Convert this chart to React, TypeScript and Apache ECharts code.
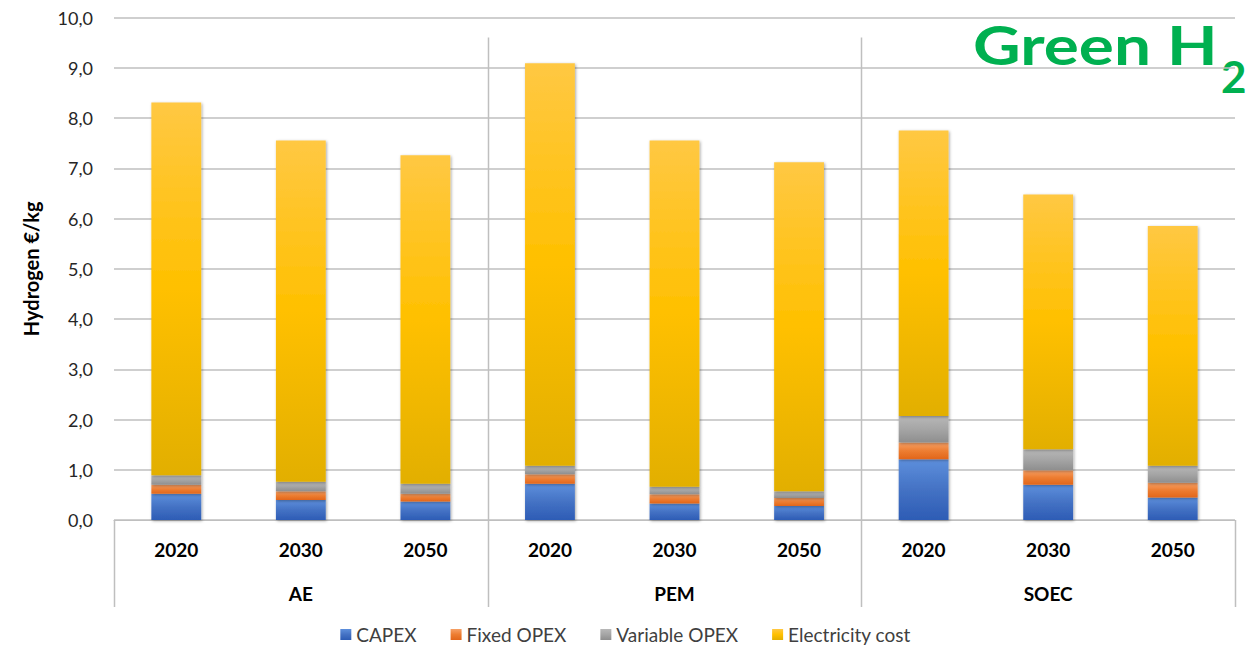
import React, { useEffect, useRef } from "react";
import * as echarts from "echarts";

// Cost build-up of green hydrogen per electrolyser technology and year (€/kg)
const years = ["2020", "2030", "2050", "2020", "2030", "2050", "2020", "2030", "2050"];
const technologies = ["AE", "PEM", "SOEC"];
const capex = [0.52, 0.4, 0.37, 0.72, 0.33, 0.28, 1.21, 0.7, 0.45];
const fixedOpex = [0.18, 0.17, 0.15, 0.19, 0.18, 0.16, 0.33, 0.29, 0.29];
const variableOpex = [0.19, 0.19, 0.2, 0.17, 0.15, 0.13, 0.53, 0.42, 0.34];
const electricityCost = [7.42, 6.79, 6.54, 8.01, 6.89, 6.55, 5.68, 5.07, 4.77];
const yTicks = { min: 0, max: 10, interval: 1 };

// Group separators: [category index, top value, side of the band]
const separators = [
  [0, 0, -1],
  [2, 9.6, 1],
  [5, 9.6, 1],
  [8, 0, 1],
];

const FONT = "Lato, 'Noto Sans', sans-serif";
const GRID = "#BFBFBF";
const GREEN = "#00B050";

const grad = (top: string, mid: string, bottom: string) =>
  new echarts.graphic.LinearGradient(0, 0, 0, 1, [
    { offset: 0, color: top },
    { offset: 0.5, color: mid },
    { offset: 1, color: bottom },
  ]);

const barStyle = (color: any) => ({
  color,
  shadowColor: "rgba(0,0,0,0.35)",
  shadowBlur: 3,
  shadowOffsetX: 1,
  shadowOffsetY: 1,
});

export default function App() {
  const ref = useRef<HTMLDivElement>(null);

  useEffect(() => {
    document.body.style.margin = "0";
    const chart = echarts.init(ref.current!, undefined, { renderer: "svg" });

    const stackSeries = (name: string, data: number[], color: any) => ({
      name,
      type: "bar",
      stack: "cost",
      barWidth: "40%",
      data,
      itemStyle: barStyle(color),
      emphasis: { disabled: true },
    });

    chart.setOption({
      animation: false,
      textStyle: { fontFamily: FONT },
      grid: { left: 114, right: 16, top: 17.5, bottom: 126, containLabel: false },
      legend: {
        data: ["CAPEX", "Fixed OPEX", "Variable OPEX", "Electricity cost"],
        top: 620,
        left: "center",
        icon: "rect",
        itemWidth: 11,
        itemHeight: 11,
        itemGap: 34,
        textStyle: { fontFamily: FONT, fontSize: 19, color: "#404040" },
      },
      xAxis: [
        {
          type: "category",
          data: years,
          position: "bottom",
          axisLine: { show: true, lineStyle: { color: GRID, width: 1 } },
          axisTick: { show: false },
          axisLabel: {
            interval: 0,
            margin: 20,
            fontFamily: FONT,
            fontSize: 19,
            fontWeight: "bold",
            color: "#000000",
          },
        },
        {
          type: "category",
          data: technologies,
          position: "bottom",
          axisLine: { show: false },
          axisTick: { show: false },
          axisLabel: {
            interval: 0,
            margin: 64,
            fontFamily: FONT,
            fontSize: 19,
            fontWeight: "bold",
            color: "#000000",
          },
        },
      ],
      yAxis: {
        type: "value",
        min: yTicks.min,
        max: yTicks.max,
        interval: yTicks.interval,
        name: "Hydrogen €/kg",
        nameLocation: "middle",
        nameGap: 73,
        nameTextStyle: { fontFamily: FONT, fontSize: 20, fontWeight: "bold", color: "#000000" },
        axisLine: { show: false },
        axisTick: { show: false },
        splitLine: { lineStyle: { color: GRID, width: 1.5 } },
        axisLabel: {
          margin: 21,
          fontFamily: FONT,
          fontSize: 18,
          color: "#262626",
          formatter: (v: number) => v.toFixed(1).replace(".", ","),
        },
      },
      series: [
        stackSeries("CAPEX", capex, grad("#5D8FDC", "#4472C4", "#2D5CB5")),
        stackSeries("Fixed OPEX", fixedOpex, grad("#F6A066", "#ED7D31", "#E2661A")),
        stackSeries("Variable OPEX", variableOpex, grad("#B8B8B8", "#A5A5A5", "#8E8E8E")),
        stackSeries("Electricity cost", electricityCost, grad("#FFC843", "#FFC000", "#E2AF00")),
        {
          type: "custom",
          data: separators,
          silent: true,
          z: 1,
          renderItem: (_params: any, api: any) => {
            const idx = api.value(0);
            const top = api.coord([idx, api.value(1)]);
            const base = api.coord([idx, 0]);
            const half = api.size([1, 0])[0] / 2;
            const x = Math.round(top[0] + api.value(2) * half) + 0.5;
            return {
              type: "line",
              shape: { x1: x, y1: top[1], x2: x, y2: base[1] + 87 },
              style: { stroke: GRID, lineWidth: 1.5 },
            };
          },
        },
      ],
      graphic: [
        {
          type: "text",
          x: 973,
          y: 18,
          scaleX: 1.24,
          style: {
            text: "Green H",
            fontFamily: FONT,
            fontSize: 53,
            fontWeight: "bold",
            fill: GREEN,
          },
        },
        {
          type: "text",
          x: 1221,
          y: 54,
          style: {
            text: "2",
            fontFamily: FONT,
            fontSize: 44,
            fontWeight: "bold",
            fill: GREEN,
          },
        },
      ],
    });

    return () => chart.dispose();
  }, []);

  return <div ref={ref} style={{ width: 1251, height: 646 }} />;
}
